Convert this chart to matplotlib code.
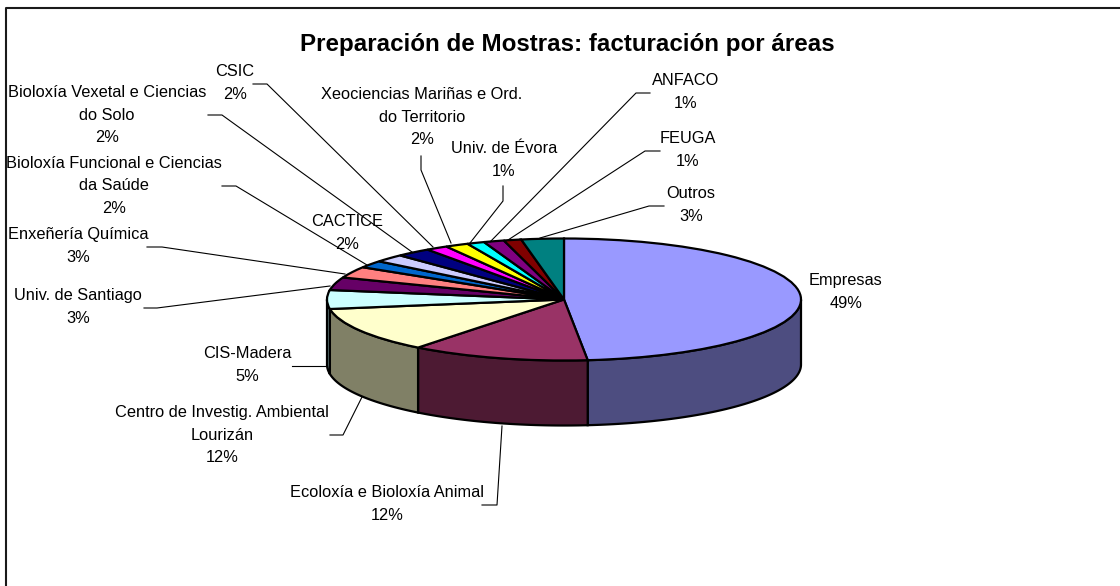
import numpy as np
import matplotlib
matplotlib.use('Agg')
import matplotlib.pyplot as plt

plt.rcParams['font.family'] = ['Liberation Sans', 'DejaVu Sans']

# percent of the total
names = ['Empresas', 'Ecoloxía e Bioloxía Animal', 'Centro de Investig. Ambiental\nLourizán',
         'CIS-Madera', 'Univ. de Santiago', 'Enxeñería Química', 'CACTICE',
         'Bioloxía Funcional e Ciencias\nda Saúde', 'Bioloxía Vexetal e Ciencias\ndo Solo',
         'CSIC', 'Xeociencias Mariñas e Ord.\ndo Territorio', 'Univ. de Évora',
         'ANFACO', 'FEUGA', 'Outros']
values = [48.6, 12.2, 12.0, 5.0, 3.4, 3.0, 1.9, 2.1, 2.4, 1.5, 1.6, 1.2, 1.4, 1.2, 2.9]
colors = ['#9999FF', '#993366', '#FFFFCC', '#CCFFFF', '#660066', '#FF8080', '#0066CC', '#CCCCFF',
          '#000080', '#FF00FF', '#FFFF00', '#00FFFF', '#800080', '#800000', '#008080']

# label centre (px) for each slice
label_xy = [(846, 292), (387, 504), (222, 435), (247, 365), (78, 307), (78, 246), (347, 233),
            (114, 186), (107, 115), (235, 83), (422, 117), (504, 160), (686, 92), (688, 150), (691, 205)]
# leader lines (px)
leaders = [[(482, 505), (497, 505), (502, 426)],
           [(330, 435), (343, 435), (362, 397)],
           [(292, 366), (327, 366)],
           [(144, 308), (157, 308), (330, 286)],
           [(147, 247), (162, 247), (345, 274)],
           [(222, 186), (236, 186), (367, 265)],
           [(208, 115), (222, 115), (412, 252)],
           [(253, 84), (267, 84), (433, 247)],
           [(421, 156), (421, 170), (451, 243)],
           [(503, 186), (503, 201), (470, 243)],
           [(650, 93), (636, 93), (490, 242)],
           [(660, 151), (645, 151), (508, 240)],
           [(664, 206), (649, 206), (540, 238)]]

W, H = 1120, 586
cx, cy, a, b, depth = 564, 299.5, 237, 61, 65

fig = plt.figure(figsize=(W / 100, H / 100), dpi=100, facecolor='white')

# top layer in pixels: frame, leaders and text
bg = fig.add_axes([0, 0, 1, 1], zorder=3)
bg.set_xlim(0, W)
bg.set_ylim(H, 0)
bg.axis('off')
bg.patch.set_alpha(0)

# pie layer: unit circle squeezed into an ellipse
ax = fig.add_axes([(cx - a) / W, 1 - (cy + b) / H, 2 * a / W, 2 * b / H], zorder=2)
wedges, _ = ax.pie(values, colors=colors, startangle=90, counterclock=False, radius=1,
                   wedgeprops={'edgecolor': 'black', 'linewidth': 1.6, 'zorder': 3})
ax.set_aspect('auto')
ax.set_xlim(-1, 1)
ax.set_ylim(-1, 1)
for w in wedges:
    w.set_clip_on(False)

# side wall of the front half
d = depth / b
edges = np.cumsum([0] + values) / sum(values) * 360
for i in range(len(values)):
    t0, t1 = max(edges[i], 90), min(edges[i + 1], 270)
    if t1 <= t0:
        continue
    t = np.radians(np.linspace(t0, t1, 80))
    x, y = np.sin(t), np.cos(t)
    rgb = np.array(matplotlib.colors.to_rgb(colors[i])) * 0.5
    ax.fill(np.r_[x, x[::-1]], np.r_[y, y[::-1] - d], facecolor=rgb, edgecolor='black',
            linewidth=1.6, zorder=1, clip_on=False)

bg.plot([5.5, 5.5, 1120], [586, 7.5, 7.5], color='#1a1a1a', lw=1.5)
bg.text(567, 44, 'Preparación de Mostras: facturación por áreas', fontsize=17.4,
        fontweight='bold', ha='center', va='center')

for i, name in enumerate(names):
    lx, ly = label_xy[i]
    bg.text(lx, ly, name + '\n' + str(round(values[i])) + '%', fontsize=11.8, ha='center',
            va='center', linespacing=1.6, color='black')
for pts in leaders:
    xs, ys = zip(*pts)
    bg.plot(xs, ys, color='black', lw=0.8)

fig.savefig('out.png', dpi=100)
